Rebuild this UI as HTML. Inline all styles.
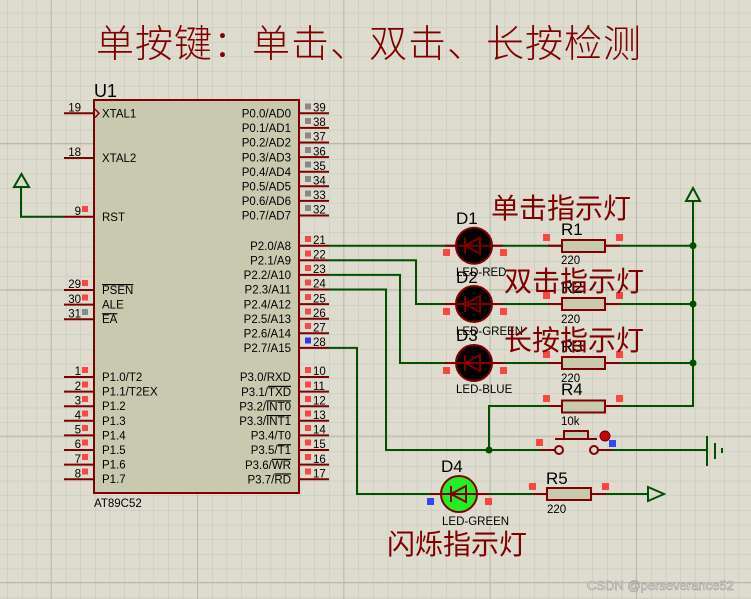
<!DOCTYPE html>
<html><head><meta charset="utf-8"><style>
html,body{margin:0;padding:0;background:#dddcce}
svg{display:block}
text{font-family:"Liberation Sans","Noto Sans CJK SC",sans-serif}
.pn{font-size:11.5px;fill:#000}
.nm{font-size:11.5px;fill:#000}
.cn{font-family:"Liberation Sans","Noto Sans CJK SC",sans-serif;fill:#800000}
</style></head><body>
<svg width="751" height="599" viewBox="0 0 751 599" xmlns="http://www.w3.org/2000/svg">
<defs>
<pattern id="g" x="7.3" y="12.7" width="14.63" height="14.63" patternUnits="userSpaceOnUse">
<path d="M0 0H14.63M0 0V14.63" stroke="#c4c4b8" stroke-width="1" fill="none"/>
</pattern>
<pattern id="G" x="50.7" y="-3.3" width="146.3" height="146.3" patternUnits="userSpaceOnUse">
<path d="M0 0H146.3M0 0V146.3" stroke="#b8b8ac" stroke-width="2" fill="none"/>
</pattern>
</defs>
<rect width="751" height="599" fill="#dddcce"/>
<rect width="751" height="599" fill="url(#g)"/>
<rect width="751" height="599" fill="url(#G)"/>

<text x="96" y="57" class="cn" font-size="38" font-weight="300" letter-spacing="1">单按键：单击、双击、长按检测</text>

<!-- chip -->
<text x="94" y="97" font-size="18">U1</text>
<rect x="94" y="100" width="205" height="393" fill="#c9c9b0" stroke="#800000" stroke-width="2"/>
<text x="94" y="507" font-size="11.5">AT89C52</text>
<g stroke="#800000" stroke-width="2">
<path d="M64 113.3H94M64 158H94M64 216.7H94M64 290H94M64 304.6H94M64 319.2H94"/>
<path d="M64 377H94M64 391.6H94M64 406.2H94M64 420.8H94M64 435.4H94M64 450H94M64 464.6H94M64 479.2H94"/>
<path d="M299 113.3H329M299 127.9H329M299 142.5H329M299 157.1H329M299 171.7H329M299 186.3H329M299 200.9H329M299 215.5H329"/>
<path d="M299 245.7H329M299 260.3H329M299 274.9H329M299 289.5H329M299 304.1H329M299 318.7H329M299 333.3H329M299 347.9H329"/>
<path d="M299 377H329M299 391.6H329M299 406.2H329M299 420.8H329M299 435.4H329M299 450H329M299 464.6H329M299 479.2H329"/>
</g>
<path d="M95 109l4 4.3-4 4.3" stroke="#800000" fill="none" stroke-width="1.5"/>
<g class="nm">
<text x="102" y="117.5">XTAL1</text><text x="102" y="162">XTAL2</text><text x="102" y="221">RST</text>
<text x="102" y="294" text-decoration="overline">PSEN</text><text x="102" y="308.6">ALE</text><text x="102" y="323.2" text-decoration="overline">EA</text>
<text x="102" y="381">P1.0/T2</text><text x="102" y="395.6">P1.1/T2EX</text><text x="102" y="410.2">P1.2</text><text x="102" y="424.8">P1.3</text>
<text x="102" y="439.4">P1.4</text><text x="102" y="454">P1.5</text><text x="102" y="468.6">P1.6</text><text x="102" y="483.2">P1.7</text>
</g>
<g class="nm" text-anchor="end">
<text x="291" y="117.5">P0.0/AD0</text><text x="291" y="132.1">P0.1/AD1</text><text x="291" y="146.7">P0.2/AD2</text><text x="291" y="161.3">P0.3/AD3</text>
<text x="291" y="175.9">P0.4/AD4</text><text x="291" y="190.5">P0.5/AD5</text><text x="291" y="205.1">P0.6/AD6</text><text x="291" y="219.7">P0.7/AD7</text>
<text x="291" y="249.9">P2.0/A8</text><text x="291" y="264.5">P2.1/A9</text><text x="291" y="279.1">P2.2/A10</text><text x="291" y="293.7">P2.3/A11</text>
<text x="291" y="308.3">P2.4/A12</text><text x="291" y="322.9">P2.5/A13</text><text x="291" y="337.5">P2.6/A14</text><text x="291" y="352.1">P2.7/A15</text>
<text x="291" y="381.2">P3.0/RXD</text><text x="291" y="395.8">P3.1/<tspan text-decoration="overline">TXD</tspan></text><text x="291" y="410.4">P3.2/<tspan text-decoration="overline">INT0</tspan></text><text x="291" y="425">P3.3/<tspan text-decoration="overline">INT1</tspan></text>
<text x="291" y="439.6">P3.4/T0</text><text x="291" y="454.2">P3.5/<tspan text-decoration="overline">T1</tspan></text><text x="291" y="468.8">P3.6/<tspan text-decoration="overline">WR</tspan></text><text x="291" y="483.4">P3.7/<tspan text-decoration="overline">RD</tspan></text>
</g>
<g class="pn" text-anchor="end">
<text x="81" y="111.5">19</text><text x="81" y="156.2">18</text><text x="81" y="214.9">9</text>
<text x="81" y="288.2">29</text><text x="81" y="302.8">30</text><text x="81" y="317.4">31</text>
<text x="81" y="375.2">1</text><text x="81" y="389.8">2</text><text x="81" y="404.4">3</text><text x="81" y="419">4</text>
<text x="81" y="433.6">5</text><text x="81" y="448.2">6</text><text x="81" y="462.8">7</text><text x="81" y="477.4">8</text>
</g>
<g fill="#ff4444">
<rect x="82" y="206" width="6" height="6"/><rect x="82" y="280" width="6" height="6"/><rect x="82" y="294.5" width="6" height="6"/>
<rect x="82" y="367" width="6" height="6"/><rect x="82" y="381.5" width="6" height="6"/><rect x="82" y="396" width="6" height="6"/><rect x="82" y="410.5" width="6" height="6"/>
<rect x="82" y="425" width="6" height="6"/><rect x="82" y="439.5" width="6" height="6"/><rect x="82" y="454" width="6" height="6"/><rect x="82" y="468.5" width="6" height="6"/>
</g>
<rect x="82" y="309" width="6" height="6" fill="#888"/>
<g class="pn">
<text x="313" y="111.5">39</text><text x="313" y="126.1">38</text><text x="313" y="140.7">37</text><text x="313" y="155.3">36</text>
<text x="313" y="169.9">35</text><text x="313" y="184.5">34</text><text x="313" y="199.1">33</text><text x="313" y="213.7">32</text>
<text x="313" y="243.9">21</text><text x="313" y="258.5">22</text><text x="313" y="273.1">23</text><text x="313" y="287.7">24</text>
<text x="313" y="302.3">25</text><text x="313" y="316.9">26</text><text x="313" y="331.5">27</text><text x="313" y="346.1">28</text>
<text x="313" y="375.2">10</text><text x="313" y="389.8">11</text><text x="313" y="404.4">12</text><text x="313" y="419">13</text>
<text x="313" y="433.6">14</text><text x="313" y="448.2">15</text><text x="313" y="462.8">16</text><text x="313" y="477.4">17</text>
</g>
<g fill="#888">
<rect x="305" y="103.5" width="6" height="6"/><rect x="305" y="118" width="6" height="6"/><rect x="305" y="132.5" width="6" height="6"/><rect x="305" y="147" width="6" height="6"/>
<rect x="305" y="161.5" width="6" height="6"/><rect x="305" y="176" width="6" height="6"/><rect x="305" y="190.5" width="6" height="6"/><rect x="305" y="205" width="6" height="6"/>
</g>
<g fill="#ff4444">
<rect x="305" y="236" width="6" height="6"/><rect x="305" y="250.5" width="6" height="6"/><rect x="305" y="265" width="6" height="6"/><rect x="305" y="279.5" width="6" height="6"/>
<rect x="305" y="294" width="6" height="6"/><rect x="305" y="308.5" width="6" height="6"/><rect x="305" y="323" width="6" height="6"/>
<rect x="305" y="367" width="6" height="6"/><rect x="305" y="381.5" width="6" height="6"/><rect x="305" y="396" width="6" height="6"/><rect x="305" y="410.5" width="6" height="6"/>
<rect x="305" y="425" width="6" height="6"/><rect x="305" y="439.5" width="6" height="6"/><rect x="305" y="454" width="6" height="6"/><rect x="305" y="468.5" width="6" height="6"/>
</g>
<rect x="305" y="337.5" width="6" height="6" fill="#3333ff"/>

<g stroke="#005000" stroke-width="2" fill="none">
<path d="M64 216.7H21V187"/>
<path d="M14 187H29L21.5 174Z"/>
<path d="M329 245.7H456M492 245.7H562M605 245.7H693"/>
<path d="M329 260.3H416V304H456M492 304H562M605 304H693"/>
<path d="M329 274.9H400V363H456M492 363H562M605 363H693"/>
<path d="M329 289.5H386V450H555M597 450H707"/>
<path d="M329 347.9H357V494H441M477 494H547M591 494H648"/>
<path d="M489 450V406H562M605 406H693V201"/>
<path d="M686 201H700L693 188Z"/>
<path d="M648 487V501L664 494Z"/>
<path d="M707 436V466M715 443V459M722 448V453"/>
</g>
<g fill="#005000">
<circle cx="693" cy="245.7" r="3.5"/><circle cx="693" cy="304" r="3.5"/><circle cx="693" cy="363" r="3.5"/><circle cx="489" cy="450" r="3.5"/>
</g>

<g stroke="#800000" stroke-width="2">
<path d="M445 245.7H503M445 304H503M445 363H503M430 494H489"/>
<circle cx="474" cy="245.7" r="18" fill="#000"/>
<circle cx="474" cy="304" r="18" fill="#000"/>
<circle cx="474" cy="363" r="18" fill="#000"/>
<circle cx="459" cy="494" r="18" fill="#22ee22"/>
<path d="M456 245.7H492M456 304H492M456 363H492M441 494H477"/>
<path d="M465 237.7V253.7M480 237.7L465 245.7L480 253.7Z" fill="none"/>
<path d="M465 296V312M480 296L465 304L480 312Z" fill="none"/>
<path d="M465 355V371M480 355L465 363L480 371Z" fill="none"/>
<path d="M451 486V502M466 486L451 494L466 502Z" fill="none"/>
</g>
<g stroke="#800000" stroke-width="2" fill="#c9c9b0">
<path d="M548 245.7H620M548 304H620M548 363H620M548 406H620M533 494H606" fill="none"/>
<rect x="562" y="240" width="43" height="12"/>
<rect x="562" y="298" width="43" height="12"/>
<rect x="562" y="357" width="43" height="12"/>
<rect x="562" y="400.5" width="43" height="12"/>
<rect x="547" y="488" width="44" height="12"/>
<path d="M540 450H555M597 450H612" fill="none"/>
<circle cx="559" cy="450" r="4" fill="none"/><circle cx="594" cy="450" r="4" fill="none"/>
<path d="M555 439H597" fill="none"/>
<rect x="564" y="431" width="24" height="8"/>
</g>
<circle cx="605" cy="436" r="5" fill="#cc0000" stroke="#600" stroke-width="1"/>
<rect x="609" y="440" width="7" height="7" fill="#3344ff"/>
<g fill="#ff4444">
<rect x="443" y="249" width="7" height="7"/><rect x="500" y="249" width="7" height="7"/>
<rect x="443" y="308" width="7" height="7"/><rect x="500" y="308" width="7" height="7"/>
<rect x="443" y="367" width="7" height="7"/><rect x="500" y="367" width="7" height="7"/>
<rect x="543" y="234" width="7" height="7"/><rect x="616" y="234" width="7" height="7"/>
<rect x="543" y="292" width="7" height="7"/><rect x="616" y="292" width="7" height="7"/>
<rect x="543" y="351" width="7" height="7"/><rect x="616" y="351" width="7" height="7"/>
<rect x="543" y="395" width="7" height="7"/><rect x="616" y="395" width="7" height="7"/>
<rect x="536" y="439" width="7" height="7"/>
<rect x="485" y="498" width="7" height="7"/>
<rect x="529" y="483" width="7" height="7"/><rect x="602" y="483" width="7" height="7"/>
</g>
<rect x="427" y="498" width="7" height="7" fill="#3344ff"/>

<g font-size="17">
<text x="456" y="224">D1</text><text x="456" y="283">D2</text><text x="456" y="341">D3</text><text x="441" y="472">D4</text>
<text x="561" y="235">R1</text><text x="561" y="293">R2</text><text x="561" y="352">R3</text><text x="561" y="395">R4</text><text x="546" y="484">R5</text>
</g>
<g font-size="11.5">
<text x="561" y="264">220</text><text x="561" y="323">220</text><text x="561" y="382">220</text><text x="561" y="425">10k</text><text x="547" y="513">220</text>
<text x="456" y="276">LED-RED</text><text x="456" y="335">LED-GREEN</text><text x="456" y="393">LED-BLUE</text><text x="442" y="525">LED-GREEN</text>
</g>
<g class="cn" font-size="28">
<text x="491" y="218">单击指示灯</text>
<text x="504" y="291">双击指示灯</text>
<text x="504" y="350">长按指示灯</text>
<text x="387" y="554">闪烁指示灯</text>
</g>
<text x="587" y="590" font-size="13" fill="#f4f4ee" stroke="#999" stroke-width="0.6">CSDN @perseverance52</text>
</svg>
</body></html>
